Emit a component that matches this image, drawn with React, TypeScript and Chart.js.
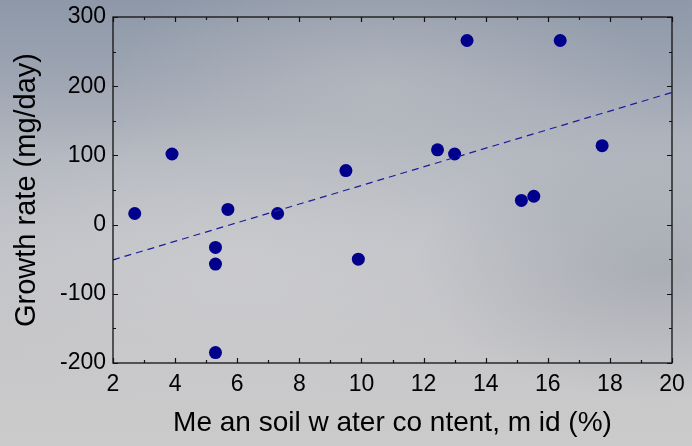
import React, { useEffect, useRef } from "react";
import { Chart, registerables } from "chart.js";

Chart.register(...registerables);

const pointX = [2.7, 3.9, 5.3, 5.3, 5.3, 5.7, 7.3, 9.5, 9.9, 12.45, 13.0, 13.4, 15.15, 15.55, 16.4, 17.75];
const pointY = [16, 102, -33, -57, -185, 22, 16, 78, -50, 108, 102, 266, 35, 41, 266, 114];
const trendX = [2, 20];
const trendY = [-51, 191];
const xTicks = [2, 4, 6, 8, 10, 12, 14, 16, 18, 20];
const yTicks = [-200, -100, 0, 100, 200, 300];
const xTitle = "Me an soil w ater co ntent, m id (%)";
const yTitle = "Growth rate (mg/day)";

const framePlugin = {
  id: "frame",
  afterDraw(chart: any) {
    const { ctx, chartArea: a, scales } = chart;
    const xs = scales.x;
    const ys = scales.y;
    ctx.save();
    ctx.strokeStyle = "#111";
    ctx.lineWidth = 1.3;
    ctx.strokeRect(a.left, a.top, a.right - a.left, a.bottom - a.top);
    ctx.lineWidth = 1.2;
    ctx.beginPath();
    for (let v = xs.min; v <= xs.max; v += 1) {
      const px = Math.round(xs.getPixelForValue(v)) + 0.5;
      const len = v % 2 === 0 ? 5 : 3;
      ctx.moveTo(px, a.bottom);
      ctx.lineTo(px, a.bottom - len);
      ctx.moveTo(px, a.top);
      ctx.lineTo(px, a.top + len);
    }
    for (let v = ys.min; v <= ys.max; v += 50) {
      const py = Math.round(ys.getPixelForValue(v)) + 0.5;
      const len = v % 100 === 0 ? 5 : 3;
      ctx.moveTo(a.left, py);
      ctx.lineTo(a.left + len, py);
      ctx.moveTo(a.right, py);
      ctx.lineTo(a.right - len, py);
    }
    ctx.stroke();
    ctx.restore();
  },
};

export default function App() {
  const ref = useRef<HTMLCanvasElement>(null);
  useEffect(() => {
    if (!ref.current) return;
    const chart = new Chart(ref.current, {
      type: "scatter",
      data: {
        datasets: [
          {
            type: "line",
            data: trendX.map((x, i) => ({ x, y: trendY[i] })),
            borderColor: "#1c1c9c",
            borderWidth: 1.2,
            borderDash: [7, 5],
            pointRadius: 0,
            fill: false,
          } as any,
          {
            data: pointX.map((x, i) => ({ x, y: pointY[i] })),
            backgroundColor: "#00008c",
            borderWidth: 0,
            pointRadius: 6.5,
          },
        ],
      },
      options: {
        animation: false,
        responsive: true,
        maintainAspectRatio: false,
        layout: { padding: { left: 0, top: 17, right: 20, bottom: 0 } },
        plugins: { legend: { display: false }, tooltip: { enabled: false } },
        scales: {
          x: {
            type: "linear",
            min: 2,
            max: 20,
            afterBuildTicks: (s: any) => {
              s.ticks = xTicks.map((v) => ({ value: v }));
            },
            afterFit: (s: any) => {
              s.height = 83;
              s.paddingLeft = 0;
              s.paddingRight = 0;
            },
            grid: { display: false, drawTicks: false },
            border: { display: false },
            ticks: {
              padding: 8,
              color: "#000",
              font: { family: "Liberation Sans, Arial, sans-serif", size: 23 },
              maxRotation: 0,
            },
            title: {
              display: true,
              text: xTitle,
              color: "#000",
              font: { family: "Liberation Sans, Arial, sans-serif", size: 28 },
              padding: { top: 0, bottom: 6 },
            },
          },
          y: {
            type: "linear",
            min: -200,
            max: 300,
            afterBuildTicks: (s: any) => {
              s.ticks = yTicks.map((v) => ({ value: v }));
            },
            afterFit: (s: any) => {
              s.width = 113;
              s.paddingTop = 0;
              s.paddingBottom = 0;
            },
            grid: { display: false, drawTicks: false },
            border: { display: false },
            ticks: {
              padding: 7,
              color: "#000",
              font: { family: "Liberation Sans, Arial, sans-serif", size: 23 },
            },
            title: {
              display: true,
              text: yTitle,
              color: "#000",
              font: { family: "Liberation Sans, Arial, sans-serif", size: 29 },
              padding: { top: 10, bottom: 0 },
            },
          },
        },
      },
      plugins: [framePlugin],
    });
    return () => chart.destroy();
  }, []);

  return (
    <div
      style={{
        position: "fixed",
        left: 0,
        top: 0,
        width: 692,
        height: 446,
        background:
          "radial-gradient(ellipse 40% 30% at 55% 20%, rgba(190,192,196,0.6), rgba(190,192,196,0) 100%)," +
          "radial-gradient(ellipse 35% 30% at 95% 60%, rgba(150,155,165,0.55), rgba(150,155,165,0) 100%)," +
          "radial-gradient(ellipse 50% 35% at 35% 60%, rgba(205,205,208,0.7), rgba(205,205,208,0) 100%)," +
          "linear-gradient(to bottom, #8e98a8 0%, #9ba3b1 15%, #b3b7bf 35%, #c0c2c7 55%, #c6c6c9 75%, #cbcbcb 100%)",
      }}
    >
      <canvas ref={ref} />
    </div>
  );
}
